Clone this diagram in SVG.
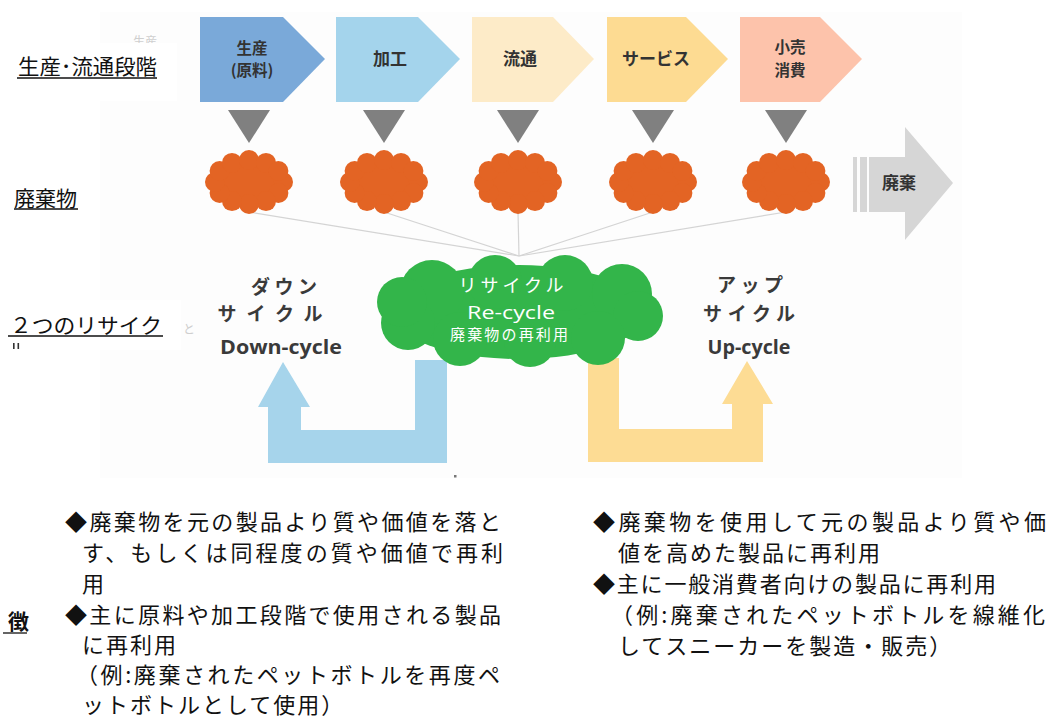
<svg xmlns="http://www.w3.org/2000/svg" xmlns:xlink="http://www.w3.org/1999/xlink" width="1051" height="720" viewBox="0 0 1051 720">
<style>
.lbl{font-family:"Noto Sans CJK JP",sans-serif;font-size:21px;fill:#111}
.ul{stroke:#111;stroke-width:1.3}
.stage{font-family:"Noto Sans CJK JP",sans-serif;font-size:17px;font-weight:bold;fill:#333;text-anchor:middle}
.stage2{font-family:"Noto Sans CJK JP",sans-serif;font-size:15.5px;font-weight:bold;fill:#333;text-anchor:middle}
.cyc{font-family:"Noto Sans CJK JP",sans-serif;font-size:19px;font-weight:bold;fill:#3a3a3a;text-anchor:middle}
.cyce{font-family:"Open Sans","Noto Sans",sans-serif;font-size:19px;font-weight:bold;fill:#3a3a3a;text-anchor:middle}
.body{font-family:"Noto Sans CJK JP",sans-serif;font-size:22px;letter-spacing:2px;fill:#111}
.ghost{font-family:"Noto Sans CJK JP",sans-serif;font-size:12px;fill:#cfcfcf}
.link{stroke:#d4d4d4;stroke-width:1.2;fill:none}
.tri{fill:#808080}
.waste{fill:#e36424}
</style>
<defs>
<g id="ocloud">
<ellipse cx="0" cy="0" rx="36" ry="24"/>
<circle cx="34" cy="0" r="10"/>
<circle cx="29.4" cy="11" r="10"/>
<circle cx="17" cy="19.1" r="10"/>
<circle cx="0" cy="22" r="10"/>
<circle cx="-17" cy="19.1" r="10"/>
<circle cx="-29.4" cy="11" r="10"/>
<circle cx="-34" cy="0" r="10"/>
<circle cx="-29.4" cy="-11" r="10"/>
<circle cx="-17" cy="-19.1" r="10"/>
<circle cx="0" cy="-22" r="10"/>
<circle cx="17" cy="-19.1" r="10"/>
<circle cx="29.4" cy="-11" r="10"/>
</g>
<polygon id="tridown" points="-21,0 21,0 0,33"/>
<clipPath id="ghostclip"><rect x="100" y="0" width="100" height="43"/></clipPath>
</defs>
<rect x="0" y="0" width="1051" height="720" fill="#ffffff"/>
<rect x="100" y="12" width="862" height="466" fill="#fdfdfd"/>

<!-- left labels -->
<g id="label-stage">
<text class="ghost" x="133" y="46" clip-path="url(#ghostclip)">生産</text>
<rect x="0" y="43" width="177" height="58" fill="#ffffff"/>
<text class="lbl" x="18" y="74" textLength="139" lengthAdjust="spacingAndGlyphs">生産･流通段階</text>
<line class="ul" x1="17" y1="78" x2="157" y2="78"/>
</g>
<g id="label-waste">
<text class="lbl" x="14" y="206">廃棄物</text>
<line class="ul" x1="14" y1="209" x2="78" y2="209"/>
</g>
<g id="label-two">
<text class="ghost" x="183" y="334">と</text>
<rect x="0" y="300" width="181" height="50" fill="#ffffff"/>
<text class="lbl" x="10" y="333" textLength="152" lengthAdjust="spacingAndGlyphs">２つのリサイク</text>
<line class="ul" x1="8" y1="336" x2="163" y2="336"/>
<rect x="13" y="343" width="1.6" height="6" fill="#333"/>
<rect x="17.5" y="343" width="1.6" height="6" fill="#333"/>
</g>
<g id="label-feature">
<text class="lbl" x="8" y="629" font-weight="bold" font-size="18">徴</text>
<line class="ul" x1="3" y1="633" x2="27" y2="633"/>
</g>

<!-- connectors -->
<g id="connectors">
<line class="link" x1="249" y1="212" x2="519" y2="256"/>
<line class="link" x1="384" y1="212" x2="519" y2="256"/>
<line class="link" x1="518" y1="212" x2="519" y2="256"/>
<line class="link" x1="653" y1="212" x2="519" y2="256"/>
<line class="link" x1="786" y1="212" x2="519" y2="256"/>
<use href="#tridown" class="tri" x="249" y="110"/>
<use href="#tridown" class="tri" x="384" y="110"/>
<use href="#tridown" class="tri" x="518" y="110"/>
<use href="#tridown" class="tri" x="653" y="110"/>
<use href="#tridown" class="tri" x="786" y="110"/>
<polygon id="down-arrow" fill="#a6d4eb" points="258,407 283,362 310,407 301,407 301,430 415,430 415,360 447,360 447,463 268,463 268,407"/>
<polygon id="up-arrow" fill="#fddc94" points="588,358 619,358 619,429 732,429 732,404 722,404 747,361 773,404 763,404 763,462 588,462"/>
<rect x="454" y="475" width="2.5" height="2.5" fill="#777"/>
</g>

<!-- stages -->
<g id="stage-1">
<polygon fill="#7aa9d9" points="200,17 283,17 325,59 283,102 200,102"/>
<text class="stage2" x="252" y="54">生産</text>
<text class="stage2" x="252" y="76">(原料)</text>
</g>
<g id="stage-2">
<polygon fill="#a4d4ec" points="336,17 418,17 460,59 418,102 336,102"/>
<text class="stage" x="390" y="65">加工</text>
</g>
<g id="stage-3">
<polygon fill="#fdebc8" points="472,17 553,17 594,59 553,102 472,102"/>
<text class="stage" x="520" y="65">流通</text>
</g>
<g id="stage-4">
<polygon fill="#fddb92" points="607,17 686,17 728,59 686,102 607,102"/>
<text class="stage" x="656" y="65">サービス</text>
</g>
<g id="stage-5">
<polygon fill="#fdc3ab" points="740,17 820,17 862,59 820,102 740,102"/>
<text class="stage2" x="790" y="53">小売</text>
<text class="stage2" x="790" y="76">消費</text>
</g>

<!-- waste clouds -->
<g id="waste-1"><use href="#ocloud" class="waste" x="249" y="182"/></g>
<g id="waste-2"><use href="#ocloud" class="waste" x="384" y="182"/></g>
<g id="waste-3"><use href="#ocloud" class="waste" x="518" y="182"/></g>
<g id="waste-4"><use href="#ocloud" class="waste" x="653" y="182"/></g>
<g id="waste-5"><use href="#ocloud" class="waste" x="786" y="182"/></g>

<!-- disposal arrow -->
<g id="disposal">
<rect x="853" y="157" width="4" height="55" fill="#d6d6d6"/>
<rect x="860" y="157" width="7" height="55" fill="#d6d6d6"/>
<polygon fill="#d6d6d6" points="869,157 905,157 905,127 953,183 905,240 905,212 869,212"/>
<text class="stage" x="899" y="189" fill="#444">廃棄</text>
</g>

<!-- recycle cloud -->
<g id="recycle">
<g fill="#33b54a">
<ellipse cx="519" cy="312" rx="128" ry="47"/>
<circle cx="432" cy="292" r="32"/>
<circle cx="495" cy="282" r="27"/>
<circle cx="565" cy="283" r="28"/>
<circle cx="622" cy="294" r="30"/>
<circle cx="638" cy="316" r="25"/>
<circle cx="598" cy="338" r="27"/>
<circle cx="530" cy="341" r="26"/>
<circle cx="460" cy="339" r="27"/>
<circle cx="408" cy="323" r="27"/>
<circle cx="402" cy="302" r="25"/>
</g>
<text x="511" y="292" text-anchor="middle" fill="#fff" font-family="Noto Sans CJK JP,sans-serif" font-size="18" textLength="105" lengthAdjust="spacing">リサイクル</text>
<text x="511" y="319" text-anchor="middle" fill="#fff" font-family="Open Sans,Noto Sans,sans-serif" font-size="19" textLength="88" lengthAdjust="spacingAndGlyphs">Re-cycle</text>
<text x="509" y="340" text-anchor="middle" fill="#fff" font-family="Noto Sans CJK JP,sans-serif" font-size="15" textLength="118" lengthAdjust="spacing">廃棄物の再利用</text>
</g>

<!-- cycle labels -->
<g id="downcycle">
<text class="cyc" x="284" y="294" textLength="66" lengthAdjust="spacing">ダウン</text>
<text class="cyc" x="270" y="321" textLength="105" lengthAdjust="spacing">サイクル</text>
<text class="cyce" x="281" y="354" textLength="122" lengthAdjust="spacingAndGlyphs">Down-cycle</text>
</g>
<g id="upcycle">
<text class="cyc" x="750" y="292" textLength="66" lengthAdjust="spacing">アップ</text>
<text class="cyc" x="749" y="321" textLength="92" lengthAdjust="spacing">サイクル</text>
<text class="cyce" x="749" y="354" textLength="83" lengthAdjust="spacingAndGlyphs">Up-cycle</text>
</g>

<!-- descriptions -->
<g id="desc-down">
<text class="body" x="65" y="530" textLength="438" lengthAdjust="spacing">◆廃棄物を元の製品より質や価値を落と</text>
<text class="body" x="82" y="561" textLength="423" lengthAdjust="spacing">す、もしくは同程度の質や価値で再利</text>
<text class="body" x="82" y="592">用</text>
<text class="body" x="65" y="623" textLength="438" lengthAdjust="spacing">◆主に原料や加工段階で使用される製品</text>
<text class="body" x="82" y="653">に再利用</text>
<text class="body" x="76" y="683" textLength="426" lengthAdjust="spacing">（例:廃棄されたペットボトルを再度ペ</text>
<text class="body" x="82" y="713">ットボトルとして使用）</text>
</g>
<g id="desc-up">
<text class="body" x="593" y="530" textLength="455" lengthAdjust="spacing">◆廃棄物を使用して元の製品より質や価</text>
<text class="body" x="618" y="561">値を高めた製品に再利用</text>
<text class="body" x="593" y="592" textLength="405" lengthAdjust="spacing">◆主に一般消費者向けの製品に再利用</text>
<text class="body" x="611" y="623" textLength="436" lengthAdjust="spacing">（例:廃棄されたペットボトルを線維化</text>
<text class="body" x="618" y="654">してスニーカーを製造・販売）</text>
</g>
</svg>
